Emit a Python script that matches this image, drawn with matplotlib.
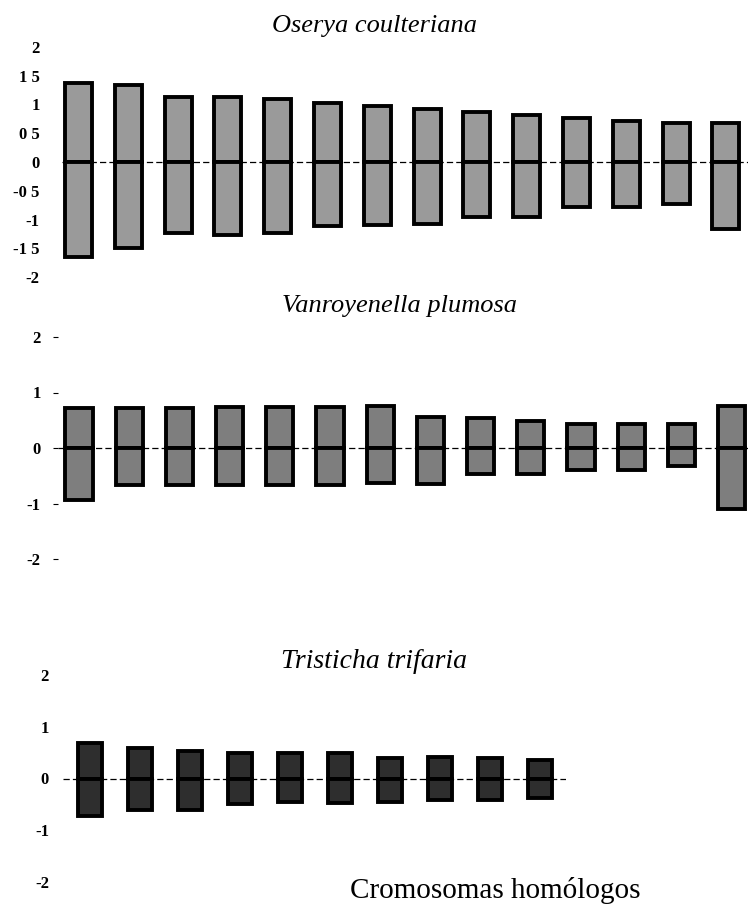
import numpy as np
import matplotlib.pyplot as plt

# arm lengths of each homologous chromosome pair (upper arm > 0, lower arm < 0)
oserya_top = [1.37, 1.34, 1.13, 1.13, 1.10, 1.03, 0.98, 0.92, 0.87, 0.82, 0.77, 0.71, 0.68, 0.68]
oserya_bottom = [-1.65, -1.50, -1.23, -1.27, -1.23, -1.11, -1.10, -1.08, -0.96, -0.96, -0.78, -0.78, -0.73, -1.16]

vanro_top = [0.72, 0.72, 0.72, 0.74, 0.74, 0.74, 0.75, 0.56, 0.54, 0.49, 0.43, 0.43, 0.43, 0.75]
vanro_bottom = [-0.94, -0.67, -0.67, -0.66, -0.66, -0.66, -0.63, -0.65, -0.47, -0.47, -0.40, -0.40, -0.32, -1.10]

tristicha_top = [0.68, 0.58, 0.54, 0.50, 0.50, 0.50, 0.39, 0.41, 0.39, 0.35]
tristicha_bottom = [-0.72, -0.60, -0.60, -0.50, -0.46, -0.48, -0.46, -0.41, -0.41, -0.37]

ticks_1 = [2, 1.5, 1, 0.5, 0, -0.5, -1, -1.5, -2]
ticklabels_1 = ['2', '1 5', '1', '0 5', '0', '-0 5', '-1', '-1 5', '-2']
ticks_23 = [2, 1, 0, -1, -2]
ticklabels_23 = ['2', '1', '0', '-1', '-2']

W, H = 748, 914
fig = plt.figure(figsize=(W / 100, H / 100), dpi=100)
serif = 'Liberation Serif'


def add_panel(left, right, top, bottom, c0, step):
    # pixel box -> figure axes; y runs from 2 (top) to -2 (bottom)
    ax = fig.add_axes([left / W, 1 - bottom / H, (right - left) / W, (bottom - top) / H])
    ax.set_ylim(-2, 2)
    ax.set_xlim((left - c0) / step, (right - c0) / step)
    for s in ax.spines.values():
        s.set_visible(False)
    ax.set_xticks([])
    ax.patch.set_alpha(0)
    return ax


def draw_bars(ax, top, bottom, width, face):
    x = np.arange(len(top))
    ax.axhline(0, color='black', lw=0.9, dashes=(5, 2.5), zorder=1)
    ax.bar(x, top, width=width, color=face, edgecolor='black', linewidth=2.8, zorder=2)
    ax.bar(x, bottom, width=width, color=face, edgecolor='black', linewidth=2.8, zorder=2)


# panel 1
ax1 = add_panel(62, 748, 47, 277, 78.5, 49.8)
draw_bars(ax1, oserya_top, oserya_bottom, 0.54, '#9a9a9a')
ax1.set_yticks(ticks_1)
ax1.set_yticklabels(ticklabels_1, family=serif, fontsize=12, fontweight='bold')
ax1.tick_params(axis='y', length=0, pad=16)

# panel 2
ax2 = add_panel(58, 748, 337, 559, 79, 50.2)
draw_bars(ax2, vanro_top, vanro_bottom, 0.54, '#7e7e7e')
ax2.set_yticks(ticks_23)
ax2.set_yticklabels(ticklabels_23, family=serif, fontsize=12, fontweight='bold')
ax2.tick_params(axis='y', length=3.5, width=0.8, pad=9)

# panel 3
ax3 = add_panel(63, 566, 675, 882, 89.5, 50)
draw_bars(ax3, tristicha_top, tristicha_bottom, 0.48, '#2e2e2e')
ax3.set_yticks(ticks_23)
ax3.set_yticklabels(ticklabels_23, family=serif, fontsize=12, fontweight='bold')
ax3.tick_params(axis='y', length=0, pad=10)

# titles
fig.text(374 / W, 1 - 32 / H, 'Oserya coulteriana', family=serif, style='italic',
         fontsize=19, ha='center', va='baseline')
fig.text(399 / W, 1 - 312 / H, 'Vanroyenella plumosa', family=serif, style='italic',
         fontsize=19, ha='center', va='baseline')
fig.text(374 / W, 1 - 668 / H, 'Tristicha trifaria', family=serif, style='italic',
         fontsize=20, ha='center', va='baseline')
fig.text(495 / W, 1 - 898 / H, 'Cromosomas homólogos', family=serif,
         fontsize=21, ha='center', va='baseline')

fig.savefig('out.png', dpi=100)
